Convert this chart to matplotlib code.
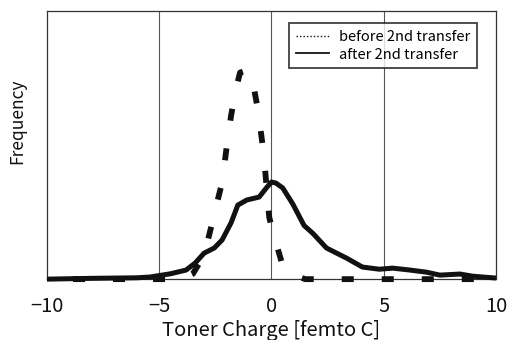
import matplotlib
matplotlib.use("Agg")
import matplotlib.pyplot as plt
from matplotlib.lines import Line2D

plt.rcParams["font.family"] = ["Noto Sans CJK JP", "DejaVu Sans"]

# before 2nd transfer (dashed)
x_before = [-10, -9, -8, -7, -6, -5, -4, -3.5, -3, -2.7, -2.5, -2.2, -2.0, -1.8, -1.55,
            -1.4, -1.05, -0.8, -0.6, -0.35, -0.1, 0.15, 0.5, 1.0, 1.5, 2, 3, 4, 5, 6, 7, 8, 9, 10]
y_before = [0, 0, 0, 0, 0, 0, 0, 2, 9, 19, 26, 36, 49, 61, 72,
            77, 78, 72, 63, 47, 23, 15, 5, 1.5, 0, 0, 0, 0, 0, 0, 0, 0, 0, 0]

# after 2nd transfer (solid)
x_after = [-10, -8, -6, -5.4, -4.5, -3.8, -3.4, -3.0, -2.55, -2.2, -1.8, -1.5, -1.1, -0.55,
           -0.2, 0.0, 0.2, 0.5, 0.95, 1.45, 1.85, 2.45, 3.35, 4.05, 4.8, 5.4, 6.15, 6.9,
           7.5, 8.4, 8.95, 10]
y_after = [0, 0.3, 0.5, 0.8, 2.0, 3.4, 6, 9.7, 11.6, 14.6, 21, 27.6, 29.5, 30.6,
           34.3, 36.2, 35.8, 34, 28, 20, 17, 11.6, 7.8, 4.5, 3.7, 4.1, 3.4, 2.6,
           1.5, 1.9, 1.1, 0.4]

x_ticks = [-10, -5, 0, 5, 10]

fig = plt.figure(figsize=(5.14, 3.40), dpi=100)
ax = fig.add_axes([0.0914, 0.179, 0.8736, 0.789])

for xv in [-5, 0, 5]:
    ax.axvline(xv, color="#555555", lw=0.8, zorder=1)

ax.plot(x_after, y_after, color="#111111", lw=3.6, solid_capstyle="butt",
        solid_joinstyle="round", clip_on=False, zorder=3)
ax.plot(x_before, y_before, color="#111111", lw=4.2,
        linestyle=(2.4, (2.06, 4.8)), dash_capstyle="butt", clip_on=False, zorder=4)

ax.set_xlim(-10, 10)
ax.set_ylim(0, 100)
ax.set_xticks(x_ticks)
ax.set_xticklabels(["\u221210", "\u22125", "0", "5", "10"])
ax.set_yticks([])
ax.tick_params(axis="x", length=0, labelsize=14.5, pad=12, colors="#111111")
for sp in ax.spines.values():
    sp.set_color("#333333")
    sp.set_linewidth(0.9)

ax.set_xlabel("Toner Charge [femto C]", fontsize=14.5, color="#111111", labelpad=2)
ax.set_ylabel("Frequency", fontsize=12.5, color="#111111")
ax.yaxis.set_label_coords(-0.046, 0.59)

handles = [Line2D([], [], color="#111111", lw=1.0, linestyle=(0, (1, 1.5))),
           Line2D([], [], color="#111111", lw=1.3)]
leg = ax.legend(handles, ["before 2nd transfer", "after 2nd transfer"],
                loc="upper right", bbox_to_anchor=(0.968, 0.97), fontsize=10.5,
                frameon=True, fancybox=False, handlelength=2.3, handletextpad=0.7,
                borderpad=0.45, borderaxespad=0.3, labelspacing=0.25)
leg.get_frame().set_edgecolor("#111111")
leg.get_frame().set_linewidth(1.3)

fig.savefig("out.png", dpi=100)
